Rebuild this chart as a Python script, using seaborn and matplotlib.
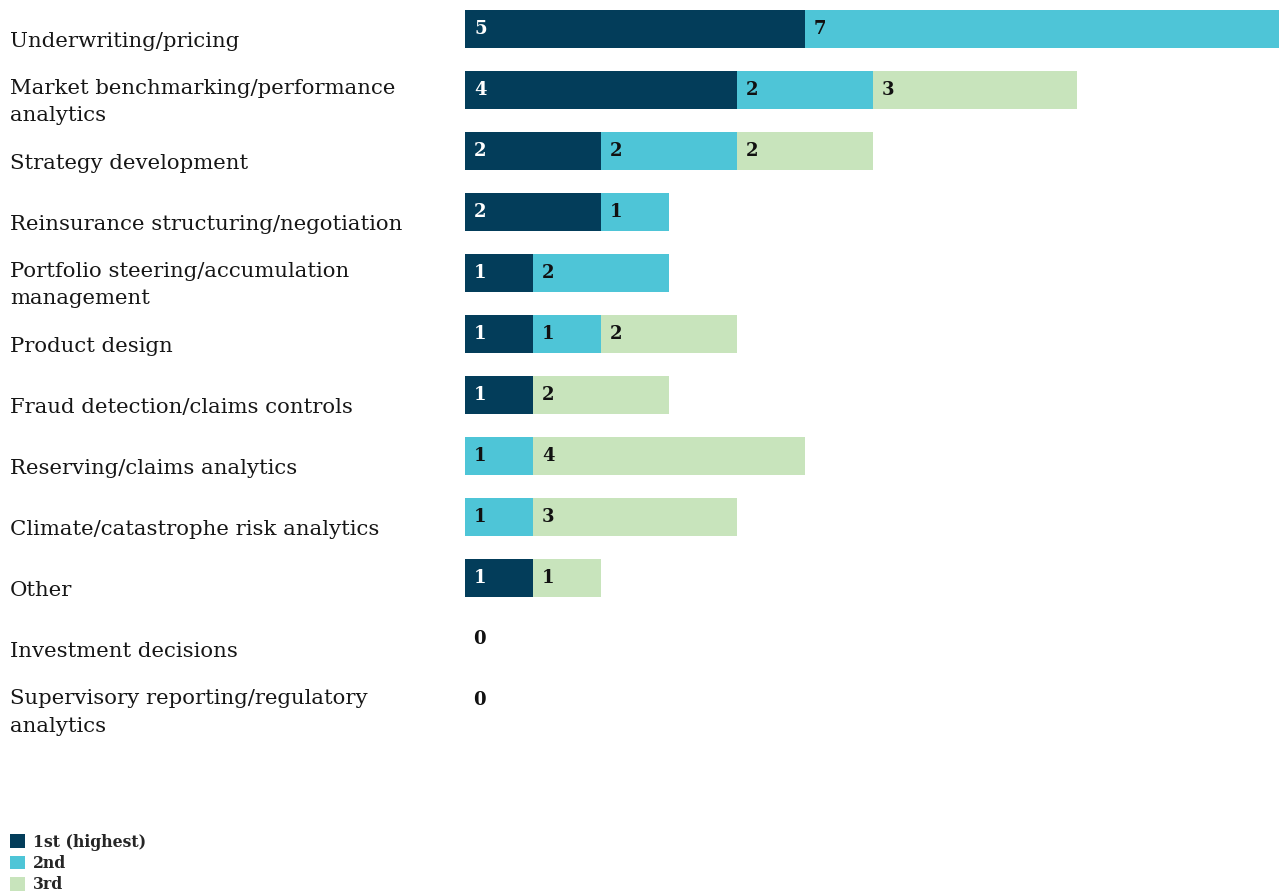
import matplotlib
matplotlib.use("Agg")
import matplotlib.pyplot as plt
import matplotlib.transforms as mtransforms
from matplotlib.patches import Patch
import numpy as np
import pandas as pd
import seaborn as sns

categories = [
    "Underwriting/pricing",
    "Market benchmarking/performance\nanalytics",
    "Strategy development",
    "Reinsurance structuring/negotiation",
    "Portfolio steering/accumulation\nmanagement",
    "Product design",
    "Fraud detection/claims controls",
    "Reserving/claims analytics",
    "Climate/catastrophe risk analytics",
    "Other",
    "Investment decisions",
    "Supervisory reporting/regulatory\nanalytics",
]
first = [5, 4, 2, 2, 1, 1, 1, 0, 0, 1, 0, 0]
second = [7, 2, 2, 1, 2, 1, 0, 1, 1, 0, 0, 0]
third = [0, 3, 2, 0, 0, 2, 2, 4, 3, 1, 0, 0]
series_names = ["1st (highest)", "2nd", "3rd"]
colors = ["#033d5a", "#4ec5d7", "#c8e4bc"]

sns.set_theme(style="white")
plt.rcParams["font.family"] = ["DejaVu Serif"]

df = pd.DataFrame({"cat": categories, "s1": first, "s2": second, "s3": third})
df["c1"] = df["s1"]
df["c2"] = df["s1"] + df["s2"]
df["c3"] = df["s1"] + df["s2"] + df["s3"]

fig = plt.figure(figsize=(12.79, 8.96), dpi=100)
ax = fig.add_axes([465 / 1279, 1 - 731 / 896, 1 - 465 / 1279, 732.5 / 896])

# stacked bars drawn as overlapping cumulative totals
for col, color in zip(["c3", "c2", "c1"], colors[::-1]):
    sns.barplot(data=df, x=col, y="cat", color=color, orient="h",
                width=0.62, saturation=1, ax=ax, linewidth=0, edgecolor=color)

ax.set_xlim(0, 814 / 68)
ax.set_ylim(len(categories) - 0.5, -0.5)
ax.set_xlabel("")
ax.set_ylabel("")
ax.set_xticks([])
ax.set_yticks([])
for s in ax.spines.values():
    s.set_visible(False)

px = 1 / 68  # one pixel in data units along x
trans_lbl = mtransforms.blended_transform_factory(fig.transFigure, ax.transData)
for i, cat in enumerate(categories):
    ax.text(10 / 1279, i + 12 / 61, cat, transform=trans_lbl, ha="left",
            va="center", fontsize=15.3, color="#161616", linespacing=1.55)
    vals = [first[i], second[i], third[i]]
    start = 0
    if sum(vals) == 0:
        ax.text(start + 8 * px, i, "0", ha="left", va="center",
                fontsize=13, fontweight="bold", color="#111111")
        continue
    for k, v in enumerate(vals):
        if v > 0:
            ax.text(start + 9 * px, i, str(v), ha="left", va="center",
                    fontsize=13, fontweight="bold",
                    color="white" if k == 0 else "#111111")
        start += v

handles = [Patch(facecolor=c, edgecolor="none") for c in colors]
leg = fig.legend(handles, series_names, loc="lower left",
                 bbox_to_anchor=(5 / 1279, -2 / 896), frameon=False,
                 prop={"weight": "bold", "size": 11.3},
                 handlelength=0.95, handleheight=0.95, handletextpad=0.55,
                 labelspacing=0.28, borderaxespad=0.1, borderpad=0.2)

fig.savefig("out.png", dpi=100)
